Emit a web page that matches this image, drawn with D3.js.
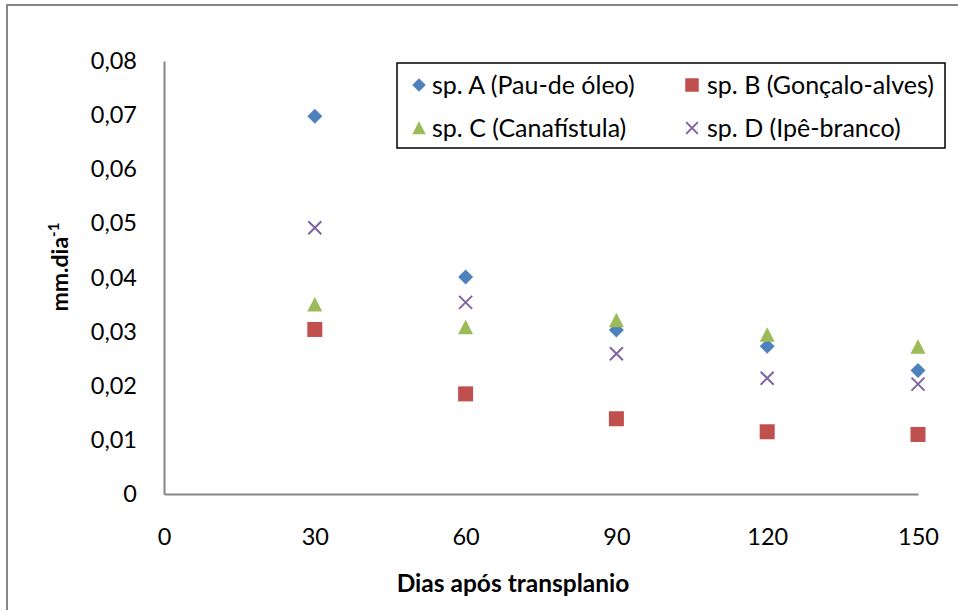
<!DOCTYPE html>
<html><head><meta charset="utf-8">
<script src="https://cdn.jsdelivr.net/npm/d3@7"></script>
<style>body{margin:0;background:#fff}svg{display:block}text{font-family:Lato,"Liberation Sans",sans-serif}</style>
</head><body>
<svg id="c" width="958" height="610"></svg>
<script>
const days = [30, 60, 90, 120, 150];
const xTicks = [0, 30, 60, 90, 120, 150];
const yTicks = [0, 0.01, 0.02, 0.03, 0.04, 0.05, 0.06, 0.07, 0.08];
const seriesNames = ["sp. A (Pau-de óleo)", "sp. B (Gonçalo-alves)", "sp. C (Canafístula)", "sp. D (Ipê-branco)"];
const spA = [0.0698, 0.0401, 0.0303, 0.0273, 0.0228];
const spB = [0.0304, 0.0185, 0.0139, 0.0115, 0.0110];
const spC = [0.0350, 0.0308, 0.0321, 0.0294, 0.0272];
const spD = [0.0492, 0.0354, 0.0259, 0.0214, 0.0203];
const colors = ["#4F81BD", "#C0504D", "#9BBB59", "#8064A2"];
const shapes = ["diamond", "square", "triangle", "cross"];
const xTitle = "Dias após transplanio";

const svg = d3.select("#c");
const m = {l:164, r:918, t:61, b:494};
const x = d3.scaleLinear().domain([0,150]).range([m.l, m.r]);
const y = d3.scaleLinear().domain([0,0.08]).range([m.b, m.t]);

// outer border
svg.append("path").attr("d", "M7,610 V5 H958").attr("fill","none").attr("stroke","#868686").attr("stroke-width",2);

// axes
const yAx = svg.append("g").attr("transform",`translate(${m.l},0)`)
  .call(d3.axisLeft(y).tickValues(yTicks).tickSize(0).tickPadding(27)
    .tickFormat(d => d===0 ? "0" : d3.format(".2f")(d).replace(".", ",")));
const xAx = svg.append("g").attr("transform",`translate(0,${m.b})`)
  .call(d3.axisBottom(x).tickValues(xTicks).tickSize(0).tickPadding(33).tickFormat(d3.format("d")));
[yAx, xAx].forEach(g => {
  g.select(".domain").attr("stroke","#868686").attr("stroke-width",2);
  g.selectAll("text").attr("font-size",23.5).attr("fill","#000").attr("font-family","Lato, sans-serif");
});
xAx.selectAll("text").attr("dy","0.35em").attr("y", 43);

function sym(g, shape, color, cx, cy, s) {
  const h = 7.5 * s;
  if (shape === "diamond") g.append("path").attr("d",`M${cx},${cy-h} L${cx+h},${cy} L${cx},${cy+h} L${cx-h},${cy} Z`).attr("fill", color);
  else if (shape === "square") g.append("rect").attr("x",cx-h).attr("y",cy-h).attr("width",2*h).attr("height",2*h).attr("fill",color);
  else if (shape === "triangle") g.append("path").attr("d",`M${cx},${cy-h} L${cx+h},${cy+h*0.93} L${cx-h},${cy+h*0.93} Z`).attr("fill",color);
  else { const k = 6.5*s; g.append("path").attr("d",`M${cx-k},${cy-k} L${cx+k},${cy+k} M${cx+k},${cy-k} L${cx-k},${cy+k}`).attr("stroke",color).attr("stroke-width",2).attr("fill","none"); }
}

const data = [spA, spB, spC, spD];
const pts = svg.append("g");
data.forEach((vals, si) => {
  vals.forEach((v, i) => sym(pts, shapes[si], colors[si], x(days[i]), y(v), 1));
});

// legend
const lg = svg.append("g");
lg.append("rect").attr("x",397).attr("y",63).attr("width",548).attr("height",85).attr("fill","#fff").attr("stroke","#000").attr("stroke-width",1.5);
const lpos = [[419,85],[692,85],[419,128],[692,128]];
seriesNames.forEach((n, i) => {
  sym(lg, shapes[i], colors[i], lpos[i][0], lpos[i][1], 0.9);
  lg.append("text").attr("x", lpos[i][0]+(i%2 ? 15 : 13)).attr("y", lpos[i][1]).attr("dy","0.35em").attr("font-size",25).text(n);
});

// titles
svg.append("text").attr("x", 513).attr("y", 583).attr("dy","0.35em").attr("text-anchor","middle")
  .attr("font-size",24.5).attr("font-weight","bold").text(xTitle);
const yt = svg.append("text").attr("transform","translate(60,267) rotate(-90)").attr("dy","0.35em").attr("text-anchor","middle")
  .attr("font-size",23).attr("font-weight","bold");
yt.append("tspan").text("mm.dia");
yt.append("tspan").attr("font-size",15).attr("dy","-0.6em").text("-1");
</script>
</body></html>
